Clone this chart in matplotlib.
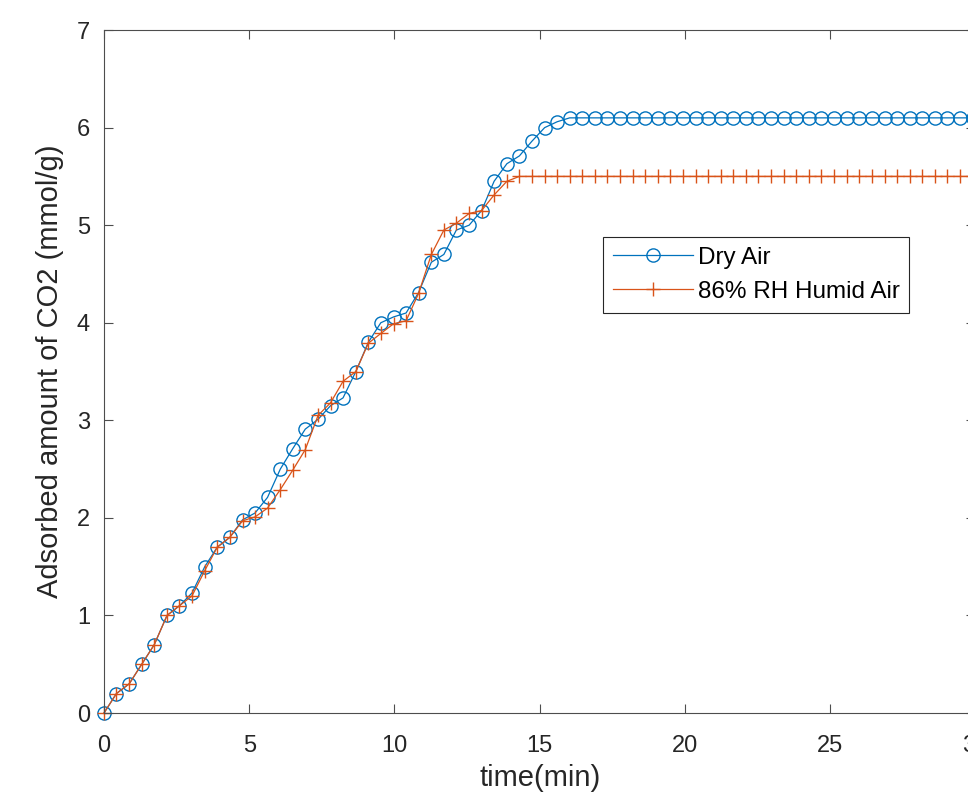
import matplotlib.pyplot as plt

plt.rcParams['font.family'] = ['Liberation Sans', 'DejaVu Sans']

# sampling times (min), one reading every 26 s
time_min = [0.00, 0.43, 0.87, 1.30, 1.73, 2.17, 2.60, 3.03, 3.47, 3.90,
            4.33, 4.77, 5.20, 5.63, 6.07, 6.50, 6.93, 7.37, 7.80, 8.23,
            8.67, 9.10, 9.53, 9.97, 10.40, 10.83, 11.27, 11.70, 12.13, 12.57,
            13.00, 13.43, 13.87, 14.30, 14.73, 15.17, 15.60, 16.03, 16.47, 16.90,
            17.33, 17.77, 18.20, 18.63, 19.07, 19.50, 19.93, 20.37, 20.80, 21.23,
            21.67, 22.10, 22.53, 22.97, 23.40, 23.83, 24.27, 24.70, 25.13, 25.57,
            26.00, 26.43, 26.87, 27.30, 27.73, 28.17, 28.60, 29.03, 29.47, 29.90]

dry_air = [0.00, 0.20, 0.30, 0.50, 0.70, 1.00, 1.10, 1.23, 1.50, 1.70,
           1.80, 1.98, 2.05, 2.21, 2.50, 2.71, 2.91, 3.01, 3.15, 3.23,
           3.50, 3.80, 4.00, 4.06, 4.10, 4.31, 4.62, 4.70, 4.95, 5.00,
           5.15, 5.45, 5.63, 5.71, 5.86, 6.00, 6.06, 6.10, 6.10, 6.10,
           6.10, 6.10, 6.10, 6.10, 6.10, 6.10, 6.10, 6.10, 6.10, 6.10,
           6.10, 6.10, 6.10, 6.10, 6.10, 6.10, 6.10, 6.10, 6.10, 6.10,
           6.10, 6.10, 6.10, 6.10, 6.10, 6.10, 6.10, 6.10, 6.10, 6.10]

humid_air = [0.00, 0.20, 0.30, 0.50, 0.70, 1.00, 1.10, 1.20, 1.46, 1.70,
             1.80, 1.97, 2.01, 2.10, 2.29, 2.49, 2.70, 3.05, 3.18, 3.40,
             3.50, 3.79, 3.89, 3.99, 4.02, 4.30, 4.70, 4.95, 5.02, 5.12,
             5.15, 5.31, 5.45, 5.50, 5.50, 5.50, 5.50, 5.50, 5.50, 5.50,
             5.50, 5.50, 5.50, 5.50, 5.50, 5.50, 5.50, 5.50, 5.50, 5.50,
             5.50, 5.50, 5.50, 5.50, 5.50, 5.50, 5.50, 5.50, 5.50, 5.50,
             5.50, 5.50, 5.50, 5.50, 5.50, 5.50, 5.50, 5.50, 5.50, 5.50]

x_ticks = [0, 5, 10, 15, 20, 25, 30]
y_ticks = [0, 1, 2, 3, 4, 5, 6, 7]

blue = '#0072BD'
orange = '#D95319'

fig = plt.figure(figsize=(9.68, 7.95), dpi=100)
# axes runs a little past the right edge, like the cropped original
ax = fig.add_axes([0.1074, 0.1031, 0.9003, 0.8591])

ax.plot(time_min, dry_air, color=blue, lw=0.9, marker='o', ms=9.5,
        mfc='none', mec=blue, mew=1.0, label='Dry Air', clip_on=False)
ax.plot(time_min, humid_air, color=orange, lw=0.9, marker='+', ms=10.5,
        mec=orange, mew=1.0, label='86% RH Humid Air', clip_on=False)

ax.set_xlim(0, 30)
ax.set_ylim(0, 7)
ax.set_xticks(x_ticks)
ax.set_yticks(y_ticks)

ax.set_xlabel('time(min)', fontsize=21, labelpad=5, color='#262626')
ax.set_ylabel('Adsorbed amount of CO2 (mmol/g)', fontsize=21, labelpad=9,
              color='#262626')

for s in ax.spines.values():
    s.set_color('#4d4d4d')
    s.set_linewidth(0.8)
ax.tick_params(axis='both', direction='in', length=6.5, width=0.8,
               top=True, right=True, labelsize=17, colors='#4d4d4d')
ax.tick_params(axis='x', pad=16)
ax.tick_params(axis='y', pad=10)
for lab in ax.get_xticklabels() + ax.get_yticklabels():
    lab.set_color('#262626')

leg = ax.legend(loc='upper left', bbox_to_anchor=(0.5726, 0.697),
                borderaxespad=0, fontsize=17.5, fancybox=False,
                edgecolor='#262626', handlelength=3.3, handletextpad=0.2,
                borderpad=0.4, labelspacing=0.5, framealpha=1)
leg.get_frame().set_linewidth(0.8)

fig.savefig('out.png', dpi=100)
